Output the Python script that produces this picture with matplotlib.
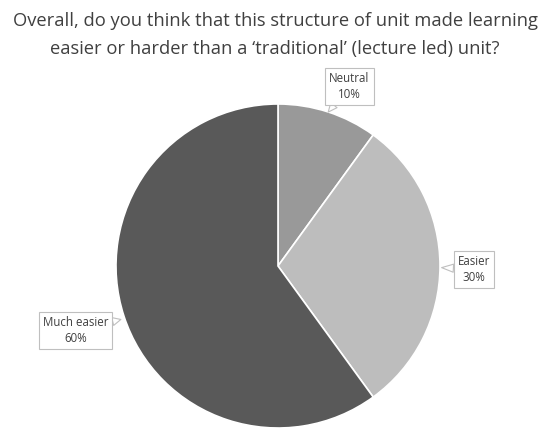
import matplotlib
matplotlib.use('Agg')
import matplotlib.pyplot as plt

labels = ['Neutral', 'Easier', 'Much easier']
values = [10, 30, 60]
colors = ['#999999', '#bdbdbd', '#595959']
title = 'Overall, do you think that this structure of unit made learning\neasier or harder than a \u2018traditional\u2019 (lecture led) unit?'

plt.rcParams['font.family'] = ['Open Sans', 'DejaVu Sans']

fig = plt.figure(figsize=(5.45, 4.3), dpi=100)
fig.text(275/545, 1 - 12/430, title, ha='center', va='top', fontsize=13.2,
         color='#404040', linespacing=1.7)

ax = fig.add_axes([116/545, 2/430, 324/545, 324/430])
wedges, _ = ax.pie(values, colors=colors, startangle=90, counterclock=False,
                   wedgeprops=dict(edgecolor='white', linewidth=1.2))
ax.set_xlim(-1, 1)
ax.set_ylim(-1, 1)
ax.set_aspect('equal')
ax.axis('off')

# callout boxes: (label pos, pointer tip)
boxes = [((0.44, 1.11), (0.31, 0.95)),
         ((1.21, -0.02), (1.01, -0.01)),
         ((-1.25, -0.40), (-0.97, -0.33))]
for lab, v, (pos, tip) in zip(labels, values, boxes):
    ax.annotate('%s\n%d%%' % (lab, v), xy=tip, xytext=pos,
                ha='center', va='center', fontsize=8.3, color='#404040',
                linespacing=1.3, annotation_clip=False,
                bbox=dict(boxstyle='square,pad=0.35', fc='white', ec='#bfbfbf', lw=0.8),
                arrowprops=dict(arrowstyle='wedge,tail_width=0.7,shrink_factor=0.5',
                                fc='white', ec='#bfbfbf', lw=0.8,
                                shrinkA=0, shrinkB=0))

fig.savefig('out.png', dpi=100)
